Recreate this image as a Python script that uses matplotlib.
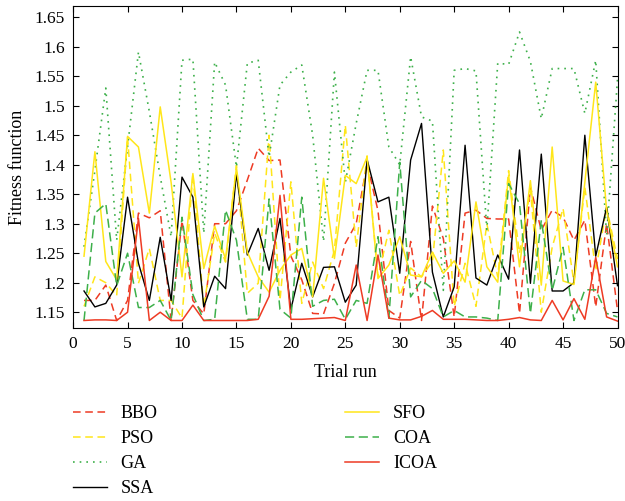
import numpy as np
import matplotlib
matplotlib.use("Agg")
import matplotlib.pyplot as plt

# trial runs
trials = np.arange(1, 51)

# fitness values
bbo = [1.17, 1.17, 1.196, 1.136, 1.17, 1.318, 1.31, 1.322, 1.136, 1.305,
       1.17, 1.147, 1.3, 1.3, 1.322, 1.374, 1.428, 1.407, 1.408, 1.245,
       1.205, 1.148, 1.147, 1.199, 1.267, 1.3, 1.402, 1.322, 1.153, 1.14,
       1.27, 1.136, 1.33, 1.275, 1.142, 1.318, 1.323, 1.309, 1.308, 1.308,
       1.148, 1.362, 1.289, 1.323, 1.311, 1.272, 1.306, 1.159, 1.3, 1.153]
pso = [1.16, 1.21, 1.2, 1.178, 1.447, 1.199, 1.258, 1.17, 1.17, 1.14,
       1.385, 1.158, 1.284, 1.235, 1.399, 1.182, 1.199, 1.45, 1.17, 1.371,
       1.165, 1.235, 1.19, 1.255, 1.467, 1.26, 1.415, 1.21, 1.289, 1.178,
       1.225, 1.21, 1.236, 1.425, 1.16, 1.233, 1.16, 1.30, 1.21, 1.39,
       1.25, 1.357, 1.15, 1.26, 1.326, 1.2, 1.362, 1.22, 1.328, 1.24]
ga = [1.261, 1.39, 1.53, 1.272, 1.43, 1.591, 1.49, 1.38, 1.278, 1.577,
      1.579, 1.284, 1.574, 1.535, 1.396, 1.572, 1.577, 1.413, 1.535, 1.557,
      1.569, 1.45, 1.27, 1.557, 1.37, 1.47, 1.56, 1.56, 1.43, 1.40,
      1.583, 1.481, 1.474, 1.187, 1.56, 1.563, 1.559, 1.29, 1.572, 1.57,
      1.625, 1.575, 1.478, 1.563, 1.563, 1.563, 1.487, 1.577, 1.28, 1.545]
ssa = [1.186, 1.159, 1.165, 1.196, 1.345, 1.233, 1.17, 1.277, 1.17, 1.379,
       1.345, 1.159, 1.211, 1.19, 1.385, 1.247, 1.292, 1.221, 1.309, 1.155,
       1.233, 1.176, 1.226, 1.227, 1.167, 1.196, 1.409, 1.337, 1.345, 1.216,
       1.408, 1.47, 1.218, 1.142, 1.193, 1.433, 1.208, 1.196, 1.247, 1.206,
       1.425, 1.199, 1.418, 1.186, 1.186, 1.2, 1.45, 1.245, 1.328, 1.195]
sfo = [1.245, 1.422, 1.236, 1.205, 1.448, 1.43, 1.318, 1.498, 1.37, 1.21,
       1.385, 1.224, 1.296, 1.24, 1.395, 1.252, 1.21, 1.184, 1.221, 1.247,
       1.258, 1.176, 1.377, 1.241, 1.382, 1.368, 1.413, 1.207, 1.23, 1.278,
       1.213, 1.21, 1.252, 1.216, 1.237, 1.201, 1.337, 1.227, 1.201, 1.382,
       1.227, 1.373, 1.196, 1.43, 1.203, 1.197, 1.37, 1.54, 1.323, 1.227]
coa = [1.136, 1.318, 1.334, 1.195, 1.25, 1.158, 1.158, 1.17, 1.136, 1.311,
       1.18, 1.136, 1.138, 1.323, 1.272, 1.138, 1.138, 1.342, 1.155, 1.14,
       1.345, 1.16, 1.17, 1.172, 1.138, 1.17, 1.165, 1.278, 1.14, 1.404,
       1.176, 1.204, 1.19, 1.142, 1.153, 1.142, 1.142, 1.14, 1.136, 1.368,
       1.334, 1.148, 1.306, 1.187, 1.26, 1.136, 1.188, 1.188, 1.148, 1.142]
icoa = [1.136, 1.137, 1.137, 1.136, 1.15, 1.309, 1.136, 1.15, 1.136, 1.136,
        1.162, 1.136, 1.136, 1.136, 1.136, 1.136, 1.138, 1.177, 1.348, 1.138,
        1.138, 1.139, 1.14, 1.141, 1.136, 1.23, 1.136, 1.247, 1.14, 1.137,
        1.137, 1.143, 1.153, 1.138, 1.138, 1.138, 1.137, 1.136, 1.136, 1.138,
        1.141, 1.137, 1.136, 1.17, 1.137, 1.173, 1.138, 1.243, 1.142, 1.135]

plt.rcParams['font.family'] = ['Liberation Serif', 'DejaVu Serif']

fig = plt.figure(figsize=(6.25, 5.01), dpi=100)
ax = fig.add_axes([0.117, 0.345, 0.871, 0.643])

red = '#EE3B24'
yellow = '#FFE61A'
green = '#3DB04A'

ax.plot(trials, bbo, color=red, ls=(0, (5, 3)), lw=1.1, label='BBO')
ax.plot(trials, pso, color=yellow, ls=(0, (5, 3)), lw=1.1, label='PSO')
ax.plot(trials, ga, color=green, ls=(0, (1, 3)), lw=1.2, label='GA')
ax.plot(trials, ssa, color='black', ls='-', lw=1.0, label='SSA')
ax.plot(trials, sfo, color=yellow, ls='-', lw=1.1, label='SFO')
ax.plot(trials, coa, color=green, ls=(0, (6, 3)), lw=1.1, label='COA')
ax.plot(trials, icoa, color=red, ls='-', lw=1.1, label='ICOA')

ax.set_xlim(0, 50)
ax.set_ylim(1.123, 1.669)
ax.set_xticks(np.arange(0, 51, 5))
ax.set_yticks(np.arange(1.15, 1.651, 0.05))
ax.set_yticklabels(['1.15', '1.2', '1.25', '1.3', '1.35', '1.4', '1.45',
                    '1.5', '1.55', '1.6', '1.65'])
ax.tick_params(direction='in', top=True, right=True, labelsize=12.5,
               length=4, pad=6)
ax.set_xlabel('Trial run', fontsize=13, labelpad=8)
ax.set_ylabel('Fitness function', fontsize=13, labelpad=6)

fig.legend(loc='upper left', bbox_to_anchor=(0.09, 0.224), ncol=2,
           frameon=False, fontsize=13, handlelength=1.9, handletextpad=0.75,
           columnspacing=10.4, labelspacing=0.45, bbox_transform=fig.transFigure)

fig.savefig('out.png', dpi=100)
